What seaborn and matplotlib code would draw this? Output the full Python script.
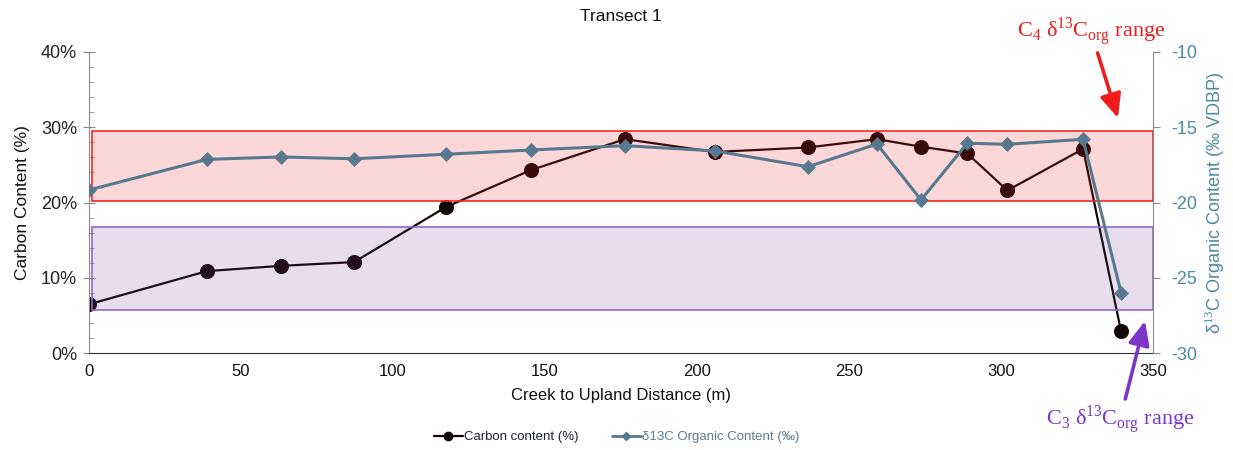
import matplotlib
matplotlib.use("Agg")
import numpy as np
import pandas as pd
import seaborn as sns
import matplotlib.pyplot as plt
from matplotlib.patches import Rectangle
from matplotlib.ticker import PercentFormatter, MultipleLocator
from matplotlib.lines import Line2D

# ---- data ----
distance_m = [0, 38.8, 63.2, 87.2, 117.4, 145.4, 176.3, 205.9, 236.5, 259.2, 273.7, 288.9, 302.1, 327.0, 339.5]
carbon_pct = [6.5, 10.9, 11.6, 12.1, 19.4, 24.3, 28.4, 26.7, 27.3, 28.4, 27.4, 26.5, 21.6, 27.1, 2.9]
d13c_permil = [-19.17, -17.14, -16.98, -17.10, -16.80, -16.52, -16.23, -16.58, -17.63, -16.12,
               -19.83, -16.07, -16.14, -15.81, -25.98]
c4_range = (-19.9, -15.25)
c3_range = (-27.1, -21.6)
x_ticks = [0, 50, 100, 150, 200, 250, 300, 350]
left_ticks = [0, 10, 20, 30, 40]
right_ticks = [-30, -25, -20, -15, -10]

title = "Transect 1"
xlabel = "Creek to Upland Distance (m)"
ylabel_left = "Carbon Content (%)"
ylabel_right = "δ$^{13}$C Organic Content (‰ VDBP)"
label_carbon = "Carbon content (%)"
label_d13c = "δ13C Organic Content (‰)"
c4_text = "C$_4$ δ$^{13}$C$_{\\rm org}$ range"
c3_text = "C$_3$ δ$^{13}$C$_{\\rm org}$ range"

df = pd.DataFrame({"distance": distance_m, "carbon": carbon_pct, "d13c": d13c_permil})

sns.set_style("white")
plt.rcParams["font.family"] = ["Liberation Sans", "DejaVu Sans"]
plt.rcParams["axes.unicode_minus"] = False
plt.rcParams["mathtext.fontset"] = "custom"
plt.rcParams["mathtext.rm"] = "Liberation Sans"
plt.rcParams["mathtext.it"] = "Liberation Sans"

W, H = 1233, 450
fig = plt.figure(figsize=(W / 100, H / 100), dpi=100)
ax = fig.add_axes([89 / W, 1 - 353.3 / H, (1153 - 89) / W, (353.3 - 51.7) / H])
ax2 = ax.twinx()

carbon_col = "#120606"
d13c_col = "#56798F"
teal = "#4A8BA6"
spine_gray = "#8A8A8A"

sns.lineplot(data=df, x="distance", y="carbon", ax=ax, color=carbon_col, linewidth=1.6,
             marker="o", markersize=10, markeredgecolor=carbon_col, markeredgewidth=0.8,
             label=label_carbon, legend=False, zorder=2)

# ranges boxes on secondary axis (semi-transparent overlays)
ax2.add_patch(Rectangle((1, c4_range[0]), 349, c4_range[1] - c4_range[0],
                        facecolor=(0.92, 0.15, 0.15, 0.18), edgecolor="#EE2A2A", linewidth=1.2, zorder=1))
ax2.add_patch(Rectangle((1, c3_range[0]), 349, c3_range[1] - c3_range[0],
                        facecolor=(0.44, 0.19, 0.63, 0.16), edgecolor="#9466C4", linewidth=1.2, zorder=1))

sns.lineplot(data=df, x="distance", y="d13c", ax=ax2, color=d13c_col, linewidth=2.2,
             marker="D", markersize=7, markeredgecolor=d13c_col, markeredgewidth=0.5,
             label=label_d13c, legend=False, zorder=3)

ax.set_xlim(0, 350)
ax.set_ylim(0, 40)
ax2.set_ylim(-30, -10)
ax.set_xticks(x_ticks)
ax.set_yticks(left_ticks)
ax.yaxis.set_major_formatter(PercentFormatter(decimals=0))
ax.yaxis.set_minor_locator(MultipleLocator(2))
ax2.set_yticks(right_ticks)

for a in (ax, ax2):
    a.spines["top"].set_visible(False)
ax.spines["left"].set_color(spine_gray)
ax.spines["bottom"].set_color("#333333")
ax2.spines["right"].set_color(spine_gray)
ax2.spines["left"].set_visible(False)
ax2.spines["bottom"].set_visible(False)
ax.spines["right"].set_visible(False)

ax.tick_params(axis="x", direction="in", length=5, color="#333333", labelsize=12, pad=8, labelcolor="#111111")
ax.tick_params(axis="y", which="major", direction="inout", length=9, color=spine_gray, labelsize=13,
               pad=4, labelcolor="#222222", left=True)
ax.tick_params(axis="y", which="minor", direction="in", length=3.5, color=spine_gray, left=True)
ax2.tick_params(axis="y", direction="out", length=5, color=spine_gray, labelsize=13, pad=8,
                labelcolor=teal, right=True)

ax.set_xlabel(xlabel, fontsize=12, labelpad=6, color="#111111")
ax.set_ylabel(ylabel_left, fontsize=12.5, labelpad=8, color="#111111")
ax2.set_ylabel(ylabel_right, fontsize=13, labelpad=4, color=teal)
ax.set_title(title, fontsize=12.5, pad=22, color="#111111")

# legend
handles = [Line2D([], [], color=carbon_col, marker="o", markersize=6, linewidth=1.6),
           Line2D([], [], color=d13c_col, marker="D", markersize=4, linewidth=2)]
leg = fig.legend(handles, [label_carbon, label_d13c], loc="center", bbox_to_anchor=(0.5, 1 - 437 / H),
                 ncol=2, frameon=False, fontsize=9.5, handlelength=2.2, handletextpad=0.1, columnspacing=2.5)
leg.get_texts()[0].set_color("#1E2238")
leg.get_texts()[1].set_color("#5A7D95")

# annotations
serif = ["Liberation Serif", "DejaVu Serif"]
plt.rcParams["mathtext.rm"] = "Liberation Serif"
ax.annotate(c4_text, xy=(1118 / W, 1 - 118 / H), xycoords="figure fraction",
            xytext=(1091 / W, 1 - 32 / H), textcoords="figure fraction",
            ha="center", va="center", fontsize=16, color="#EE1C1C", family=serif,
            arrowprops=dict(arrowstyle="-|>,head_length=0.9,head_width=0.4", color="#EE1C1C", lw=2.6,
                            shrinkA=1, shrinkB=0))
ax.annotate(c3_text, xy=(1145 / W, 1 - 321 / H), xycoords="figure fraction",
            xytext=(1120 / W, 1 - 420 / H), textcoords="figure fraction",
            ha="center", va="center", fontsize=16, color="#7B35C8", family=serif,
            arrowprops=dict(arrowstyle="-|>,head_length=0.9,head_width=0.4", color="#7B35C8", lw=2.6,
                            shrinkA=1, shrinkB=0))

fig.savefig("out.png", dpi=100)
